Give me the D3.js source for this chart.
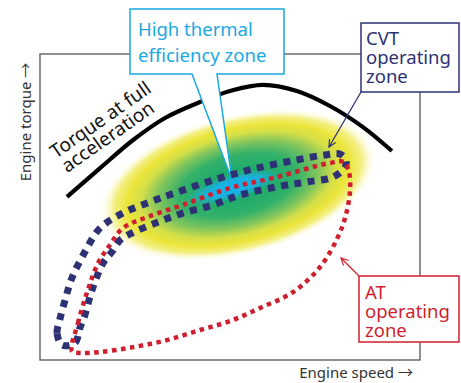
<!DOCTYPE html>
<html><head><meta charset="utf-8">
<script src="https://cdn.jsdelivr.net/npm/d3@7"></script>
<style>
html,body{margin:0;padding:0;background:#fff;}
svg{display:block;font-family:"Noto Sans","Open Sans",sans-serif;}
</style></head>
<body>
<svg id="chart" width="461" height="383"></svg>
<script>
// ---- data (normalised engine speed 0-100, engine torque 0-100) ----
const torqueSpeed = [7.1, 15.8, 24.5, 32.9, 42.1, 50.0, 58.7, 67.6, 76.3, 85.0, 92.6];
const torqueValue = [53.3, 62.7, 71.9, 79.1, 84.3, 87.9, 89.9, 87.9, 83.0, 76.1, 68.3];

const cvtSpeed  = [5.8, 4.5, 5.3, 6.6, 8.4, 11.8, 15.8, 21.8, 28.9, 35.5, 46.6, 57.1, 67.6, 75.0, 78.9, 80.5, 80.3,
                   77.1, 70.3, 63.7, 52.6, 45.5, 37.6, 31.1, 24.2, 21.1, 18.9, 16.6, 13.7, 11.8, 10.5, 9.2];
const cvtTorque = [4.9, 8.8, 13.7, 19.6, 26.8, 35.3, 43.1, 48.0, 51.6, 54.6, 59.2, 62.7, 65.4, 67.0, 67.3, 65.4, 63.1,
                   59.8, 58.2, 56.9, 53.9, 50.7, 48.0, 45.1, 41.5, 39.2, 35.3, 31.7, 22.9, 14.7, 10.5, 5.6];

const atSpeed  = [8.4, 10.0, 12.6, 15.3, 18.4, 21.8, 28.2, 37.6, 50.0, 62.4, 76.3, 80.0, 81.3, 81.6, 80.5, 78.4,
                  73.7, 66.6, 57.9, 50.0, 42.1, 33.4, 24.5, 15.8, 10.5];
const atTorque = [2.9, 12.1, 22.9, 31.7, 37.6, 43.1, 46.7, 50.7, 56.2, 59.8, 64.4, 64.7, 61.4, 55.6, 47.4, 40.2,
                  30.4, 22.2, 17.0, 12.7, 9.8, 6.5, 4.2, 2.6, 2.3];

// high thermal efficiency zone (centre, half-axes in data units)
const zoneCentre = [52.1, 57.2];
const zoneHalfAxes = [37.4, 23.0];
const coreCentre = [50.8, 56.5];
const coreHalfAxes = [13.0, 4.0];

const axisLabels = ["Engine speed", "Engine torque"];
const axisArrow = "\u2192";
const torqueLabel = ["Torque at full", "acceleration"];
const thermalLabel = ["High thermal", "efficiency zone"];
const cvtLabel = ["CVT", "operating", "zone"];
const atLabel = ["AT", "operating", "zone"];

// ---- drawing ----
const svg = d3.select("#chart");
const x = d3.scaleLinear().domain([0, 100]).range([40, 420]);
const y = d3.scaleLinear().domain([0, 100]).range([360, 54]);

const NAVY = "#2e3274", RED = "#cf1f2e", CYAN = "#1aa9e1", FRAME = "#555";

const defs = svg.append("defs");
const g1 = defs.append("radialGradient").attr("id", "heat");
[[0, "#20b096", 1], [0.22, "#20ab6c", 1], [0.42, "#33b16a", 1], [0.58, "#84c65c", 1],
 [0.70, "#d4df48", 1], [0.80, "#ebe53a", 1], [0.89, "#efea58", 0.75], [1, "#ffffff", 0]]
  .forEach(s => g1.append("stop").attr("offset", s[0]).attr("stop-color", s[1]).attr("stop-opacity", s[2]));
const g2 = defs.append("radialGradient").attr("id", "core");
[[0, "#14b4f0", 1], [0.55, "#18b2ea", 0.9], [1, "#1ab0e4", 0]]
  .forEach(s => g2.append("stop").attr("offset", s[0]).attr("stop-color", s[1]).attr("stop-opacity", s[2]));

function marker(id, color) {
  defs.append("marker").attr("id", id).attr("viewBox", "0 0 10 10").attr("refX", 9).attr("refY", 5)
    .attr("markerWidth", 9).attr("markerHeight", 9).attr("markerUnits", "userSpaceOnUse").attr("orient", "auto")
    .append("path").attr("d", "M1,1 L9,5 L1,9").attr("fill", "none").attr("stroke", color).attr("stroke-width", 1.3);
}
marker("arrNavy", NAVY); marker("arrRed", RED);

// frame
svg.append("rect").attr("x", x(0)).attr("y", y(100)).attr("width", x(100) - x(0)).attr("height", y(0) - y(100))
  .attr("fill", "none").attr("stroke", FRAME).attr("stroke-width", 1.3);

// efficiency zone blob
function blob(c, h, fill, rot) {
  const cx = x(c[0]), cy = y(c[1]);
  svg.append("ellipse").attr("cx", cx).attr("cy", cy)
    .attr("rx", x(c[0] + h[0]) - cx).attr("ry", cy - y(c[1] + h[1]))
    .attr("transform", `rotate(${rot},${cx},${cy})`).attr("fill", fill);
}
blob(zoneCentre, zoneHalfAxes, "url(#heat)", -14);
blob(coreCentre, coreHalfAxes, "url(#core)", -16);

// torque curve
const torquePts = torqueSpeed.map((s, i) => [x(s), y(torqueValue[i])]);
svg.append("path").attr("d", d3.line().curve(d3.curveCatmullRom)(torquePts))
  .attr("fill", "none").attr("stroke", "#000").attr("stroke-width", 4.2).attr("stroke-linecap", "butt");

const tl = svg.append("text").attr("transform", "translate(56,159) rotate(-35)")
  .attr("font-size", 19).attr("fill", "#111");
tl.append("tspan").attr("x", 0).attr("y", 0).text(torqueLabel[0]);
tl.append("tspan").attr("x", 1).attr("y", 18).text(torqueLabel[1]);

// thermal efficiency callout
svg.append("path").attr("d", "M130,9 H284 V74 H217 L232,180 L192,74 H130 Z")
  .attr("fill", "#fff").attr("stroke", CYAN).attr("stroke-width", 1.5).attr("stroke-linejoin", "miter");
const th = svg.append("text").attr("font-size", 18.5).attr("fill", CYAN);
th.append("tspan").attr("x", 138).attr("y", 36).text(thermalLabel[0]);
th.append("tspan").attr("x", 138).attr("y", 62).text(thermalLabel[1]);

// operating zones
const closed = d3.line().curve(d3.curveCatmullRomClosed.alpha(0.5));
svg.append("path").attr("d", closed(cvtSpeed.map((s, i) => [x(s), y(cvtTorque[i])])))
  .attr("fill", "none").attr("stroke", NAVY).attr("stroke-width", 7).attr("stroke-dasharray", "7 6.5");
svg.append("path").attr("d", closed(atSpeed.map((s, i) => [x(s), y(atTorque[i])])))
  .attr("fill", "none").attr("stroke", RED).attr("stroke-width", 4.5).attr("stroke-dasharray", "4.5 4.5");

// CVT box
svg.append("rect").attr("x", 361).attr("y", 23).attr("width", 98).attr("height", 69)
  .attr("fill", "#fff").attr("stroke", NAVY).attr("stroke-width", 1.5);
const ct = svg.append("text").attr("font-size", 18.5).attr("fill", NAVY);
cvtLabel.forEach((t, i) => ct.append("tspan").attr("x", 366).attr("y", 45 + i * 19).text(t));
svg.append("line").attr("x1", 361).attr("y1", 92).attr("x2", 329).attr("y2", 147)
  .attr("stroke", NAVY).attr("stroke-width", 1.3).attr("marker-end", "url(#arrNavy)");

// AT box
svg.append("rect").attr("x", 359).attr("y", 276).attr("width", 100).attr("height", 66)
  .attr("fill", "#fff").attr("stroke", RED).attr("stroke-width", 1.5);
const at = svg.append("text").attr("font-size", 18.5).attr("fill", RED);
atLabel.forEach((t, i) => at.append("tspan").attr("x", 365).attr("y", 299 + i * 19).text(t));
svg.append("line").attr("x1", 359).attr("y1", 276).attr("x2", 341).attr("y2", 258)
  .attr("stroke", RED).attr("stroke-width", 1.3).attr("marker-end", "url(#arrRed)");

// axis labels
const xl = svg.append("text").attr("x", 413).attr("y", 378).attr("text-anchor", "end")
  .attr("font-size", 15).attr("fill", "#333");
xl.append("tspan").text(axisLabels[0] + " ");
xl.append("tspan").attr("font-family", "'Noto Sans CJK JP'").text(axisArrow);
const yl = svg.append("text").attr("transform", "translate(31,122) rotate(-90)").attr("text-anchor", "middle")
  .attr("font-size", 15).attr("fill", "#333");
yl.append("tspan").text(axisLabels[1] + " ");
yl.append("tspan").attr("font-family", "'Noto Sans CJK JP'").text(axisArrow);
</script>
</body></html>
